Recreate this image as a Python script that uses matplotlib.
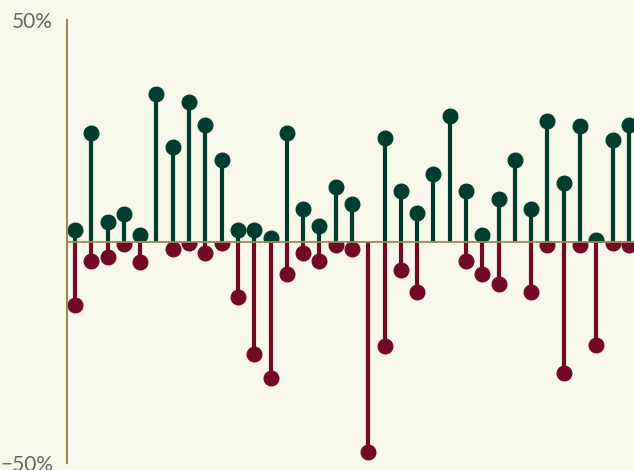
import numpy as np
import matplotlib
matplotlib.use('Agg')
import matplotlib.pyplot as plt
from matplotlib.patches import Rectangle

# values in percent, one pair per period
gains = [2.5, 24.4, 4.5, 6.3, 1.4, 33.4, 21.4, 31.4, 26.4, 18.5,
         2.5, 2.5, 0.7, 24.4, 7.4, 3.4, 12.4, 8.4, np.nan, 23.3,
         11.5, 6.5, 15.3, 28.4, 11.3, 1.4, 9.5, 18.5, 7.4, 27.3,
         13.1, 26.0, 0.3, 23.0, 26.4]
losses = [-14.4, -4.5, -3.6, -0.5, -4.7, np.nan, -1.8, -0.3, -2.5, -0.3,
          -12.6, -25.5, -30.7, -7.4, -2.5, -4.5, -0.7, -1.6, -47.6, -23.7,
          -6.5, -11.5, np.nan, np.nan, -4.5, -7.4, -9.5, np.nan, -11.5, -0.9,
          -29.6, -0.7, -23.3, -0.3, -0.7]
yticks = [-50, 50]
ytick_labels = ['\u221250%', '50%']

bg = '#f8f7ec'
green = '#003d2e'
red = '#730a24'
olive = '#9a8b55'

x = np.arange(len(gains))

fig = plt.figure(figsize=(6.34, 4.70), dpi=100, facecolor=bg)
ax = fig.add_axes([0.1057, 0.0149, 0.8943, 0.9425], facecolor=bg)

# clip each side at the zero line
top_clip = Rectangle((-5, 0), 100, 100, transform=ax.transData)
bot_clip = Rectangle((-5, -100), 100, 100, transform=ax.transData)

g_stems = ax.vlines(x, 0, gains, color=green, linewidth=3)
g_dots, = ax.plot(x, gains, 'o', color=green, markersize=10.5)
r_stems = ax.vlines(x, 0, losses, color=red, linewidth=3)
r_dots, = ax.plot(x, losses, 'o', color=red, markersize=10.5)
for a in (g_stems, g_dots):
    a.set_clip_path(top_clip)
for a in (r_stems, r_dots):
    a.set_clip_path(bot_clip)

ax.axhline(0, color=olive, linewidth=1.3, zorder=5)

ax.set_xlim(-0.49, 34.31)
ax.set_ylim(-50, 50)
ax.set_xticks([])
ax.set_yticks(yticks)
ax.set_yticklabels(ytick_labels, fontfamily='Lato', fontsize=15, color='#666666')
ax.tick_params(axis='y', length=0, pad=10)
for s in ['top', 'right', 'bottom']:
    ax.spines[s].set_visible(False)
ax.spines['left'].set_color(olive)
ax.spines['left'].set_linewidth(1.5)

fig.savefig('out.png', dpi=100, facecolor=bg)
